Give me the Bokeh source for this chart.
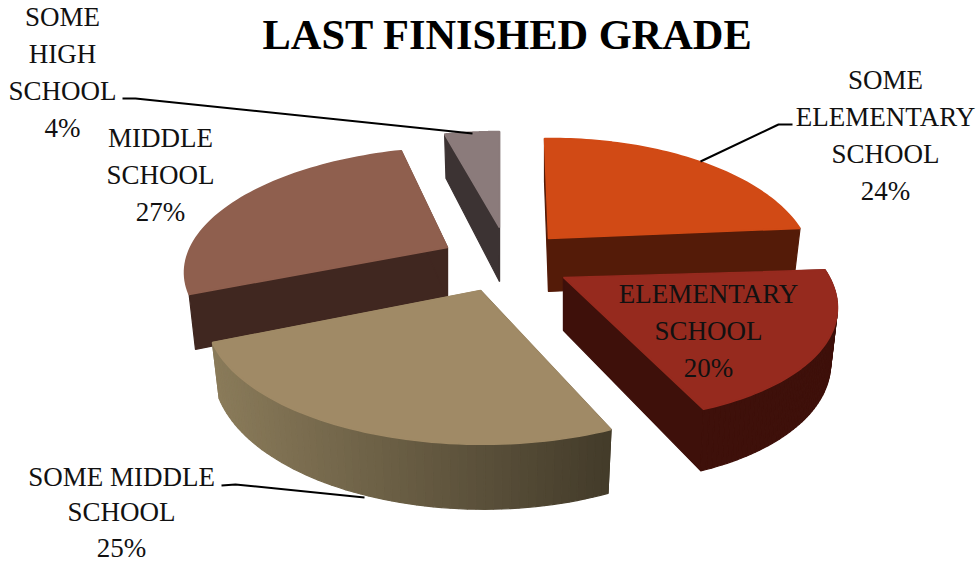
import math
from bokeh.plotting import figure
from bokeh.models import ColumnDataSource
from bokeh.core.properties import value
from bokeh.embed import file_html
from bokeh.resources import INLINE

# ---- data
categories = ["SOME ELEMENTARY SCHOOL", "ELEMENTARY SCHOOL", "SOME MIDDLE SCHOOL", "MIDDLE SCHOOL", "SOME HIGH SCHOOL"]
shares = [24, 20, 25, 27, 4]
top_colors = ["#D14A15", "#962A1E", "#A08A66", "#8F5F4E", "#8B7B7B"]
side_left = ["#541B08", "#3E100A", "#8A7B5A", "#402720", "#3C3333"]
side_right = ["#541B08", "#3E100A", "#433B2A", "#402720", "#3C3333"]
rim_shown = [False, True, True, False, False]

# ---- label text
label_lines = [
    ["SOME", "ELEMENTARY", "SCHOOL", "24%"],
    ["ELEMENTARY", "SCHOOL", "20%"],
    ["SOME MIDDLE", "SCHOOL", "25%"],
    ["MIDDLE", "SCHOOL", "27%"],
    ["SOME", "HIGH", "SCHOOL", "4%"],
]

# ---- layout of the exploded 3D pie (pixel space of the figure)
#            apex x, y,  R,  Ry,    k, thick, shear y/x, shear x/y
geometry = [
    (548, 238, 256, 123, 0.23, 53, -0.010, 0.04),
    (563, 277, 266, 122, 0.15, 53, 0.0, 0.20),
    (480, 290, 270, 123, 0.20, 52, -0.012, 0.06),
    (447, 247, 258, 115, 0.15, 52, -0.008, -0.10),
    (499, 227, 270, 118, 0.23, 54, 0.0, 0.0),
]
inward = 0.025  # lower rim draws in slightly towards the apex
label_pos = [(885, 79), (708, 293), (121, 476), (160, 137), (62, 16)]
line_step = [37, 37, 35.5, 37, 37]
leaders = [
    ([792, 778, 700], [124, 124, 161]),
    ([221, 235, 364], [485, 484, 497]),
    ([122, 135, 472], [98, 98, 133]),
]

p = figure(width=977, height=563, x_range=(0, 977), y_range=(563, 0),
           toolbar_location=None, output_backend="svg", min_border=0)
p.axis.visible = False
p.grid.visible = False
p.outline_line_color = None
p.background_fill_color = "white"
p.border_fill_color = "white"


def project(g, deg, drop=0.0):
    cx, cy, R, Ry, k, t, sy, sx = g
    a = math.radians(deg)
    ux, uy = math.sin(a), math.cos(a)
    s = 1.0 / (1.0 + k * uy)
    X = ux * R * s
    Y = -uy * Ry * s
    return cx + X + sx * Y - drop * inward * X, cy + Y + sy * X + drop * t * s


def apex(g, drop=0.0):
    return g[0], g[1] + drop * g[5]


def mix(c1, c2, f):
    a = [int(c1[i:i + 2], 16) for i in (1, 3, 5)]
    b = [int(c2[i:i + 2], 16) for i in (1, 3, 5)]
    return "#%02x%02x%02x" % tuple(round(x + (y - x) * f) for x, y in zip(a, b))


edges = [0.0]
for v in shares:
    edges.append(edges[-1] + v * 360.0 / sum(shares))

for i in [4, 3, 0, 2, 1]:
    g = geometry[i]
    a0, a1 = edges[i], edges[i + 1]
    xs, ys, cols = [], [], []
    # the two flat cut faces, drawn first so the rim covers them
    for ang in (a0, a1):
        p1, p2 = apex(g), project(g, ang)
        p3, p4 = project(g, ang, 1), apex(g, 1)
        xs.append([p1[0], p2[0], p3[0], p4[0]])
        ys.append([p1[1], p2[1], p3[1], p4[1]])
        cols.append(side_right[i] if ang == a0 else side_left[i])
    # the rim, shaded across its width
    n = 60
    rim = [a0 + (a1 - a0) * j / n for j in range(n + 1)]
    left = min(project(g, a)[0] for a in rim)
    right = max(project(g, a)[0] for a in rim)
    if rim_shown[i]:
        for j in range(n):
            q1, q2 = project(g, rim[j]), project(g, rim[j + 1])
            q3, q4 = project(g, rim[j + 1], 1), project(g, rim[j], 1)
            xs.append([q1[0], q2[0], q3[0], q4[0]])
            ys.append([q1[1], q2[1], q3[1], q4[1]])
            f = ((q1[0] + q2[0]) / 2 - left) / (right - left)
            cols.append(mix(side_left[i], side_right[i], f))
    src = ColumnDataSource(dict(x=xs, y=ys, c=cols))
    p.patches("x", "y", source=src, fill_color="c", line_color="c", line_width=1.2)
    # top face
    tx, ty = [apex(g)[0]], [apex(g)[1]]
    for a in rim:
        q = project(g, a)
        tx.append(q[0])
        ty.append(q[1])
    p.patch(tx, ty, fill_color=top_colors[i], line_color=top_colors[i], line_width=1.6)

for lx, ly in leaders:
    p.line(lx, ly, line_color="black", line_width=2)

p.text([507], [34], text=["LAST FINISHED GRADE"], text_font=value("Liberation Serif"),
       text_font_style="bold", text_font_size="42.4px", text_color="black",
       text_align="center", text_baseline="middle")

for lines, (lx, ly), step in zip(label_lines, label_pos, line_step):
    p.text([lx] * len(lines), [ly + step * k for k in range(len(lines))], text=lines,
           text_font=value("Liberation Serif"), text_font_size="27px", text_color="#111111",
           text_align="center", text_baseline="middle")

open("out.html", "w").write(file_html(p, INLINE))
